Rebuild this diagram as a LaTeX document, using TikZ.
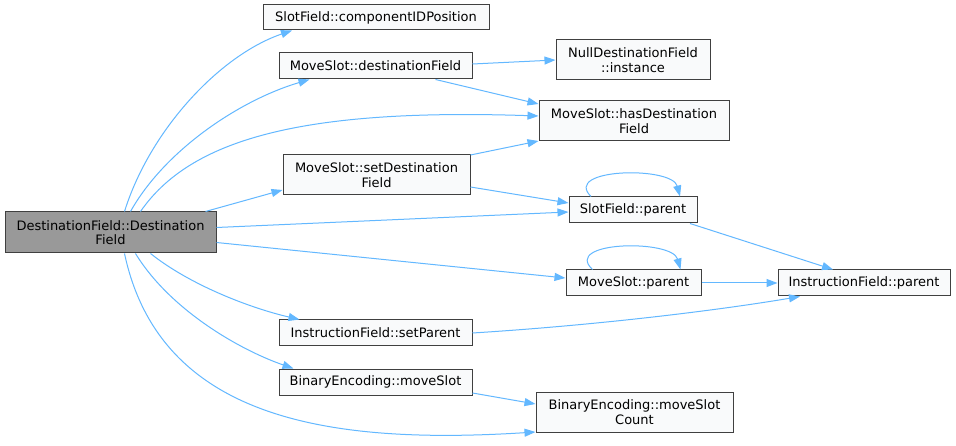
\documentclass[tikz,border=0pt]{standalone}
\usepackage{fontspec}
\setmainfont{DejaVu Sans}
\usetikzlibrary{arrows.meta}
\definecolor{edgeblue}{HTML}{63B8FF}
\definecolor{nodeborder}{HTML}{404040}
\definecolor{nodefill}{HTML}{F9FAFB}
\definecolor{mainfill}{HTML}{999999}
\begin{document}
\begin{tikzpicture}[x=1pt,y=-1pt,
  box/.style={draw=nodeborder, fill=nodefill, line width=1pt, inner sep=0pt, align=center,
    font=\fontsize{13}{14.5}\selectfont, text=black},
  edge/.style={draw=edgeblue, line width=1pt, -{Triangle[length=11pt,width=8pt,fill=edgeblue]}}
]
\useasboundingbox[fill=white] (0,0) rectangle (956,446);
\node[box, fill=mainfill, minimum width=211pt, minimum height=41pt] (main) at (110.5,232.5) {DestinationField::Destination\\Field};
\node[box, minimum width=226pt, minimum height=25pt] (cid) at (376,17.5) {SlotField::componentIDPosition};
\node[box, minimum width=193pt, minimum height=26pt] (dfield) at (375.5,66) {MoveSlot::destinationField};
\node[box, minimum width=154pt, minimum height=40pt] (null) at (633,60) {NullDestinationField\\::instance};
\node[box, minimum width=190pt, minimum height=40pt] (hasd) at (634,121) {MoveSlot::hasDestination\\Field};
\node[box, minimum width=187pt, minimum height=40pt] (setd) at (376.5,175) {MoveSlot::setDestination\\Field};
\node[box, minimum width=128pt, minimum height=26pt] (sfp) at (633,210) {SlotField::parent};
\node[box, minimum width=135pt, minimum height=26pt] (msp) at (633.5,283) {MoveSlot::parent};
\node[box, minimum width=172pt, minimum height=26pt] (ifp) at (864,283) {InstructionField::parent};
\node[box, minimum width=193pt, minimum height=26pt] (setp) at (375.5,333) {InstructionField::setParent};
\node[box, minimum width=193pt, minimum height=26pt] (bem) at (375.5,382) {BinaryEncoding::moveSlot};
\node[box, minimum width=197pt, minimum height=40pt] (bemc) at (634.5,412) {BinaryEncoding::moveSlot\\Count};

% edges from main
\draw[edge] ([xshift=14pt]main.north) .. controls (150,130) and (220,55) .. ([xshift=-84pt]cid.south);
\draw[edge] ([xshift=20pt]main.north) .. controls (165,150) and (240,100) .. ([xshift=-66pt]dfield.south);
\draw[edge] ([xshift=30pt]main.north) .. controls (190,140) and (300,108) .. ([yshift=5pt]hasd.west);
\draw[edge] ([xshift=95pt]main.north) -- ([yshift=-15pt]setd.west);
\draw[edge] ([yshift=5pt]main.east) -- ([yshift=-2pt]sfp.west);
\draw[edge] ([yshift=-10pt]main.east) -- ([yshift=5pt]msp.west);
\draw[edge] ([xshift=40pt]main.south) .. controls (190,285) and (250,308) .. ([xshift=-76pt]setp.north);
\draw[edge] ([xshift=25pt]main.south) .. controls (170,310) and (240,350) .. ([xshift=-82pt]bem.north);
\draw[edge] ([xshift=14pt]main.south) .. controls (160,420) and (330,445) .. ([yshift=-20pt]bemc.west);

% other edges
\draw[edge] ([yshift=2pt]dfield.east) -- ([yshift=0pt]null.west);
\draw[edge] ([xshift=60pt]dfield.south) -- ([yshift=17pt]hasd.west);
\draw[edge] ([yshift=20pt]setd.east) -- ([yshift=-20pt]hasd.west);
\draw[edge] ([yshift=-12pt]setd.east) -- ([yshift=7pt]sfp.west);
\draw[edge] ([xshift=-42pt]sfp.north) .. controls (562,168) and (672,166) .. ([xshift=47pt]sfp.north);
\draw[edge] ([xshift=57pt]sfp.south) -- ([xshift=-31pt]ifp.north);
\draw[edge] ([xshift=-41pt]msp.north) .. controls (562,241) and (672,239) .. ([xshift=47pt]msp.north);
\draw[edge] (msp.east) -- (ifp.west);
\draw[edge] (setp.east) .. controls (600,325) and (720,310) .. ([xshift=-64pt]ifp.south);
\draw[edge] ([yshift=-11pt]bem.east) -- ([yshift=8pt]bemc.west);
\end{tikzpicture}
\end{document}
